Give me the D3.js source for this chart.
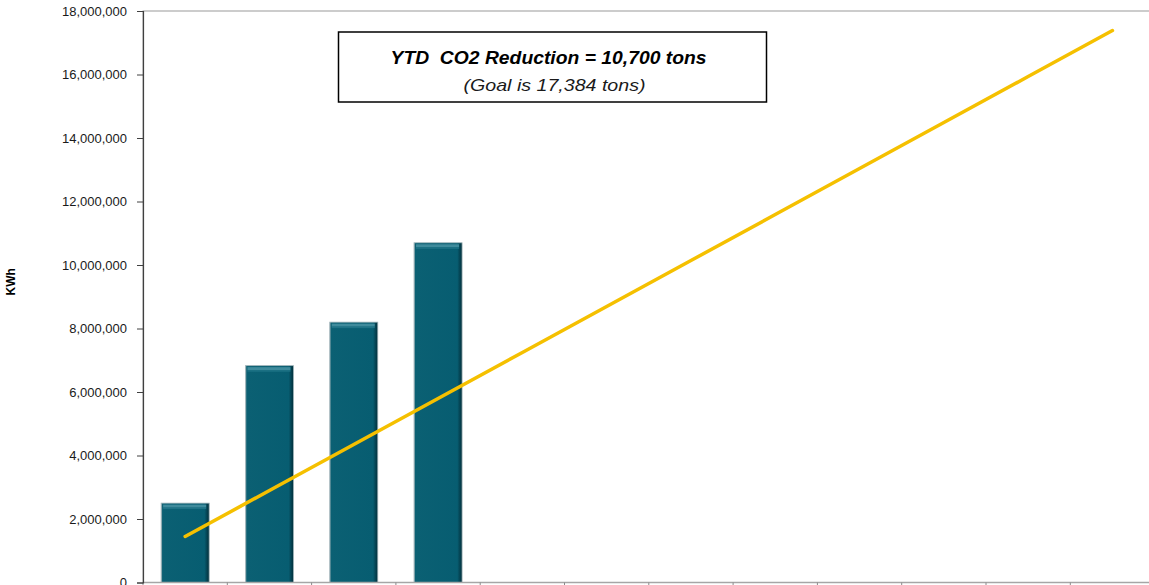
<!DOCTYPE html>
<html>
<head>
<meta charset="utf-8">
<script src="https://cdn.jsdelivr.net/npm/d3@7/dist/d3.min.js"></script>
<style>
  html, body { margin: 0; padding: 0; background: #fff; }
  svg { display: block; }
</style>
</head>
<body>
<svg id="chart" width="1149" height="585"></svg>
<script>
// ---- data ----
const months = ["Jan","Feb","Mar","Apr","May","Jun","Jul","Aug","Sep","Oct","Nov","Dec"];
const actualMonths = ["Jan","Feb","Mar","Apr"];
const actualKWh = [2500000, 6830000, 8200000, 10700000];
const goalKWh = [1448667, 2897333, 4346000, 5794667, 7243333, 8692000, 10140667, 11589333, 13038000, 14486667, 15935333, 17384000];
const yTicks = [0, 2000000, 4000000, 6000000, 8000000, 10000000, 12000000, 14000000, 16000000, 18000000];
const yLabel = "KWh";
const titleLine1 = "YTD  CO2 Reduction = 10,700 tons";
const titleLine2 = "(Goal is 17,384 tons)";

// ---- layout ----
const W = 1149, H = 585;
const plot = { left: 143, right: 1154.6, top: 11, bottom: 582.5 };
const svg = d3.select("#chart");

const x = d3.scaleBand().domain(months).range([plot.left, plot.right])
  .paddingInner(0.43).paddingOuter(0.215);
const y = d3.scaleLinear().domain([0, 18000000]).range([plot.bottom, plot.top]);

const defs = svg.append("defs");
const g1 = defs.append("linearGradient").attr("id", "barH").attr("x1", "0").attr("x2", "1").attr("y1", "0").attr("y2", "0");
g1.append("stop").attr("offset", "0").attr("stop-color", "#8fa9af");
g1.append("stop").attr("offset", "0.03").attr("stop-color", "#0b6073");
g1.append("stop").attr("offset", "0.90").attr("stop-color", "#075d71");
g1.append("stop").attr("offset", "0.96").attr("stop-color", "#04404f");
g1.append("stop").attr("offset", "1").attr("stop-color", "#02303b");

// plot area border (top visible)
svg.append("rect")
  .attr("x", plot.left).attr("y", plot.top)
  .attr("width", plot.right - plot.left).attr("height", plot.bottom - plot.top)
  .attr("fill", "none").attr("stroke", "#9a9a9a").attr("stroke-width", 1);

// bars
const bars = svg.append("g");
const bw = x.bandwidth();
actualKWh.forEach((v, i) => {
  const bx = x(actualMonths[i]);
  const by = y(v);
  const bh = y(0) - by;
  bars.append("rect").attr("x", bx).attr("y", by).attr("width", bw).attr("height", bh)
    .attr("fill", "url(#barH)").attr("stroke", "#9fb3b8").attr("stroke-width", 0.8);
  // top bevel highlight
  bars.append("rect").attr("x", bx + 2).attr("y", by + 1.5).attr("width", bw - 5).attr("height", 3)
    .attr("fill", "#3f8b9c");
  bars.append("rect").attr("x", bx + 2).attr("y", by + 4.5).attr("width", bw - 5).attr("height", 1.5)
    .attr("fill", "#1e7386");
});

// goal line
const line = d3.line()
  .x((d, i) => x(months[i]) + bw / 2)
  .y(d => y(d));
svg.append("path").datum(goalKWh)
  .attr("d", line)
  .attr("fill", "none").attr("stroke", "#f5c000").attr("stroke-width", 3.5)
  .attr("stroke-linecap", "round");

// x axis
const xAxisG = svg.append("g");
xAxisG.append("line").attr("x1", plot.left).attr("x2", plot.right)
  .attr("y1", plot.bottom).attr("y2", plot.bottom)
  .attr("stroke", "#a6a6a6").attr("stroke-width", 1.5);
months.forEach(m => {
  const bx = x(m) - x.step() * x.paddingOuter();
  xAxisG.append("line").attr("x1", bx).attr("x2", bx)
    .attr("y1", plot.bottom).attr("y2", plot.bottom + 6)
    .attr("stroke", "#8a8a8a").attr("stroke-width", 1);
});

// y axis
const yAxis = d3.axisLeft(y).tickValues(yTicks).tickFormat(d3.format(",")).tickSizeOuter(0).tickSize(6).tickPadding(10);
const yG = svg.append("g").attr("transform", `translate(${plot.left},0)`).call(yAxis);
yG.select(".domain").attr("stroke", "#404040").attr("stroke-width", 1.2);
yG.selectAll(".tick line").attr("stroke", "#404040");
yG.selectAll(".tick text")
  .attr("font-family", "'Liberation Sans', Arial, sans-serif")
  .attr("font-size", 13).attr("fill", "#1a1a1a");

// y label
svg.append("text")
  .attr("transform", `translate(15, ${(plot.top + plot.bottom) / 2 - 15}) rotate(-90)`)
  .attr("text-anchor", "middle")
  .attr("font-family", "'Liberation Sans', Arial, sans-serif")
  .attr("font-weight", "bold").attr("font-size", 12).attr("fill", "#000")
  .text(yLabel);

// title box
const box = { x: 338.5, y: 32, w: 428, h: 70 };
svg.append("rect").attr("x", box.x).attr("y", box.y).attr("width", box.w).attr("height", box.h)
  .attr("fill", "#fff").attr("stroke", "#000").attr("stroke-width", 1.5);
svg.append("text")
  .attr("x", box.x + box.w / 2 - 4).attr("y", 64)
  .attr("text-anchor", "middle")
  .attr("font-family", "'Liberation Sans', Arial, sans-serif")
  .attr("font-weight", "bold").attr("font-style", "italic").attr("font-size", 18)
  .attr("textLength", 316).attr("lengthAdjust", "spacingAndGlyphs")
  .attr("fill", "#000").style("white-space", "pre")
  .text(titleLine1);
svg.append("text")
  .attr("x", box.x + box.w / 2 + 2).attr("y", 91)
  .attr("text-anchor", "middle")
  .attr("font-family", "'Liberation Sans', Arial, sans-serif")
  .attr("font-style", "italic").attr("font-size", 17)
  .attr("textLength", 182).attr("lengthAdjust", "spacingAndGlyphs")
  .attr("fill", "#1a1a1a")
  .text(titleLine2);
</script>
</body>
</html>
